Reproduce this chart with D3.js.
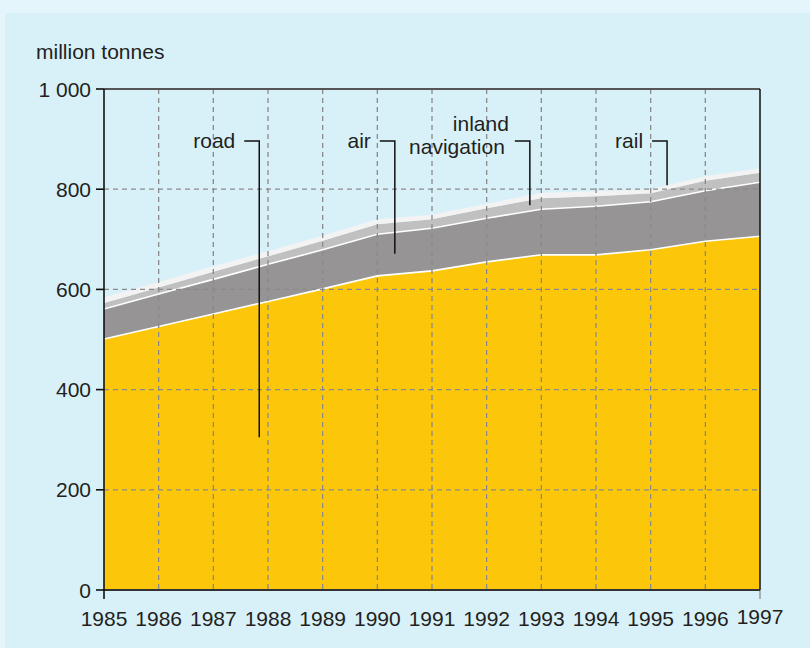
<!DOCTYPE html>
<html>
<head>
<meta charset="utf-8">
<script src="https://cdn.jsdelivr.net/npm/d3@7"></script>
<style>
  html, body { margin: 0; padding: 0; background: #e4f6fb; }
  svg { display: block; font-family: "Liberation Sans", Arial, sans-serif; }
</style>
</head>
<body>
<svg id="chart" width="810" height="648"></svg>
<script>
// values (million tonnes)
var years = [1985, 1986, 1987, 1988, 1989, 1990, 1991, 1992, 1993, 1994, 1995, 1996, 1997];
var road   = [501, 526, 551, 576, 601, 627, 637, 655, 669, 669, 679, 696, 706];
var air    = [60, 65, 69, 74, 78, 83, 85, 87, 91, 97, 96, 101, 108];
var inland = [12, 13, 15, 16, 18, 20, 18, 20, 22, 20, 17, 20, 19];
var rail   = [11, 11, 11, 10, 10, 10, 9, 9, 11, 10, 8, 9, 9];
var yTicks = [0, 200, 400, 600, 800, 1000];
var yTickLabels = ["0", "200", "400", "600", "800", "1 000"];

// label callouts: text lines, leader end year, leader end value
var labelNames = [["road"], ["air"], ["inland", "navigation"], ["rail"]];
var labelLeaderYear = [1987.84, 1990.32, 1992.79, 1995.30];
var labelLeaderEnd = [305, 671, 768, 808];
var labelLevel = 896;

var keys = ["road", "air", "inland", "rail"];
var colors = { road: "#fcc70a", air: "#969495", inland: "#c0c0c0", rail: "#f3f3f3" };
var fontSize = 21;

var svg = d3.select("#chart");

// inner panel
svg.append("rect")
  .attr("x", 5).attr("y", 13)
  .attr("width", 805).attr("height", 635)
  .attr("fill", "#d8f1f9");

var x = d3.scaleLinear().domain([1985, 1997]).range([104, 760]);
var y = d3.scaleLinear().domain([0, 1000]).range([590, 89]);

var rows = years.map(function(yr, i) {
  return { year: yr, road: road[i], air: air[i], inland: inland[i], rail: rail[i] };
});

var series = d3.stack().keys(keys)(rows);

var area = d3.area()
  .x(function(d) { return x(d.data.year); })
  .y0(function(d) { return y(d[0]); })
  .y1(function(d) { return y(d[1]); });

svg.append("g").selectAll("path")
  .data(series)
  .enter().append("path")
    .attr("d", area)
    .attr("fill", function(d) { return colors[d.key]; });

// white separators on top of road and air
var topLine = d3.line()
  .x(function(d) { return x(d.data.year); })
  .y(function(d) { return y(d[1]); });

svg.append("g").selectAll("path")
  .data(series.slice(0, 2))
  .enter().append("path")
    .attr("d", topLine)
    .attr("fill", "none")
    .attr("stroke", "#ffffff")
    .attr("stroke-width", 1.6);

// dashed grid, drawn over the areas
var grid = svg.append("g")
  .attr("stroke", "#8a8a8a")
  .attr("stroke-width", 1.3)
  .attr("stroke-dasharray", "5,4");

grid.selectAll(".vx")
  .data(years.slice(1, -1))
  .enter().append("line")
    .attr("x1", function(d) { return x(d); })
    .attr("x2", function(d) { return x(d); })
    .attr("y1", y(1000)).attr("y2", y(0));

grid.selectAll(".hy")
  .data(yTicks.slice(1, -1))
  .enter().append("line")
    .attr("x1", x(1985)).attr("x2", x(1997))
    .attr("y1", function(d) { return y(d); })
    .attr("y2", function(d) { return y(d); });

// frame
svg.append("line")
  .attr("x1", x(1985)).attr("x2", x(1997))
  .attr("y1", y(1000)).attr("y2", y(1000))
  .attr("stroke", "#555").attr("stroke-width", 2);
svg.append("line")
  .attr("x1", x(1997)).attr("x2", x(1997))
  .attr("y1", y(1000)).attr("y2", y(0))
  .attr("stroke", "#111").attr("stroke-width", 1.5);
svg.append("line")
  .attr("x1", x(1997)).attr("x2", x(1997))
  .attr("y1", y(0)).attr("y2", y(0) + 9)
  .attr("stroke", "#999").attr("stroke-width", 1.5);
svg.append("line")
  .attr("x1", x(1985)).attr("x2", x(1997))
  .attr("y1", y(0)).attr("y2", y(0))
  .attr("stroke", "#333").attr("stroke-width", 2);
svg.append("line")
  .attr("x1", x(1985)).attr("x2", x(1985))
  .attr("y1", y(1000)).attr("y2", y(0) + 9)
  .attr("stroke", "#111").attr("stroke-width", 1.6);

// y axis ticks and labels
var yAxis = svg.append("g");
yAxis.selectAll("line")
  .data(yTicks)
  .enter().append("line")
    .attr("x1", x(1985) - 8).attr("x2", x(1985))
    .attr("y1", function(d) { return y(d); })
    .attr("y2", function(d) { return y(d); })
    .attr("stroke", "#111").attr("stroke-width", 1.6);
yAxis.selectAll("text")
  .data(yTicks)
  .enter().append("text")
    .attr("x", x(1985) - 13)
    .attr("y", function(d) { return y(d); })
    .attr("dy", "0.36em")
    .attr("text-anchor", "end")
    .attr("font-size", fontSize)
    .attr("fill", "#231f20")
    .text(function(d, i) { return yTickLabels[i]; });

// x axis labels
svg.append("g").selectAll("text")
  .data(years)
  .enter().append("text")
    .attr("x", function(d) { return x(d); })
    .attr("y", function(d) { return d === 1997 ? 624 : 626; })
    .attr("text-anchor", "middle")
    .attr("font-size", fontSize)
    .attr("fill", "#231f20")
    .text(function(d) { return d; });

// unit
svg.append("text")
  .attr("x", 36).attr("y", 59)
  .attr("font-size", fontSize)
  .attr("fill", "#231f20")
  .text("million tonnes");

// callouts
var callouts = svg.append("g");
labelNames.forEach(function(lines, i) {
  var lx = x(labelLeaderYear[i]);
  var ly = y(labelLevel);
  callouts.append("path")
    .attr("d", "M" + (lx - 15) + "," + ly + "H" + lx + "V" + y(labelLeaderEnd[i]))
    .attr("fill", "none")
    .attr("stroke", "#111")
    .attr("stroke-width", 1.5);
  var t = callouts.append("text")
    .attr("text-anchor", "end")
    .attr("font-size", fontSize)
    .attr("fill", "#231f20");
  if (lines.length === 1) {
    t.append("tspan").attr("x", lx - 24).attr("y", ly + 7).text(lines[0]);
  } else {
    t.append("tspan").attr("x", lx - 21).attr("y", ly - 10).text(lines[0]);
    t.append("tspan").attr("x", lx - 25).attr("y", ly + 13).text(lines[1]);
  }
});
</script>
</body>
</html>
